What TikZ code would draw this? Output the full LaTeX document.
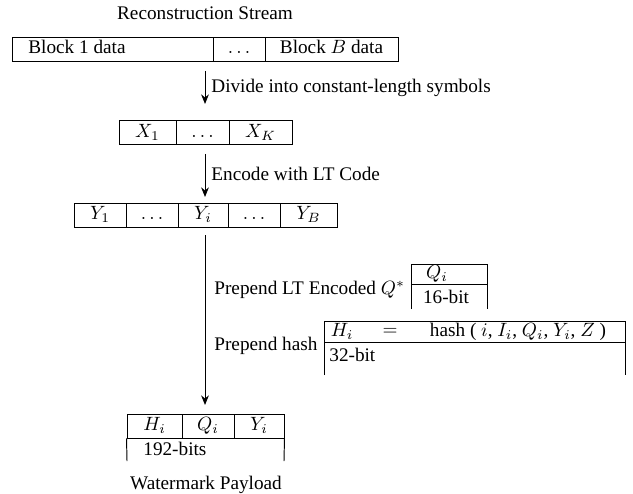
\documentclass[tikz,border=0pt]{standalone}
\usepackage{fontspec}
\setmainfont{Liberation Serif}
\usetikzlibrary{arrows.meta}
\newcommand\pxu{0.52pt}
\tikzset{
  cell/.style={draw, rectangle, inner sep=0pt, minimum height=24*\pxu, line width=0.5pt, text height=7pt, text depth=2pt},
  txt/.style={inner sep=0pt, font=\fontsize{10}{12}\selectfont},
  flow/.style={-{Stealth[length=5pt,width=4pt]}, line width=0.5pt},
  openbox/.style={draw, line width=0.5pt}
}
\begin{document}
\begin{tikzpicture}[x=\pxu, y=-\pxu, every node/.style={font=\fontsize{10}{12}\selectfont}]
\useasboundingbox (0,0) rectangle (633,494);
% title
\node[txt] (title) at (205,13) {Reconstruction Stream};
% block table
\node[cell, minimum width=201*\pxu] (b1) at (112.5,49) {};
\node[cell, minimum width=52*\pxu] (b2) at (239,49) {$\ldots$};
\node[cell, minimum width=133*\pxu] (b3) at (331.5,49) {Block $B$ data};
\node[txt, anchor=west, text height=7pt, text depth=2pt] (b1t) at (28,49) {Block 1 data};
% arrow 1
\coordinate (a1s) at (205,71);
\coordinate (a1e) at (205,104);
\draw[flow] (a1s) -- (a1e);
\node[txt, anchor=west] (l1) at (211,88) {Divide into constant-length symbols};
% X table
\node[cell, minimum width=57*\pxu] (x1) at (147.5,132.5) {$X_1$};
\node[cell, minimum width=53*\pxu] (x2) at (202.5,132.5) {$\ldots$};
\node[cell, minimum width=63*\pxu] (x3) at (260.5,132.5) {$X_K$};
% arrow 2
\coordinate (a2s) at (205,154);
\coordinate (a2e) at (205,197);
\draw[flow] (a2s) -- (a2e);
\node[txt, anchor=west] (l2) at (211,174) {Encode with LT Code};
% Y table
\node[cell, minimum width=52*\pxu] (y1) at (100,215) {$Y_1$};
\node[cell, minimum width=52*\pxu] (y2) at (152,215) {$\ldots$};
\node[cell, minimum width=50*\pxu] (y3) at (203,215) {$Y_i$};
\node[cell, minimum width=52*\pxu] (y4) at (254,215) {$\ldots$};
\node[cell, minimum width=57*\pxu] (y5) at (308.5,215) {$Y_B$};
% long arrow
\coordinate (a3s) at (205,235);
\coordinate (a3e) at (205,405);
\draw[flow] (a3s) -- (a3e);
% Q box
\node[txt, anchor=west] (l3) at (214,290) {Prepend LT Encoded $Q^{*}$};
\draw[openbox] (411,309) -- (411,264) -- (487,264) -- (487,309);
\draw[openbox] (411,284) -- (487,284);
\node[txt] (qi) at (437,274) {$Q_i$};
\node[txt] (q16) at (446,297) {16-bit};
% hash box
\node[txt, anchor=west] (l4) at (214,346) {Prepend hash};
\draw[openbox] (324,375) -- (324,321) -- (625,321) -- (625,375);
\draw[openbox] (324,342) -- (625,342);
\node[txt] (hh) at (342,331.5) {$H_i$};
\node[txt] (heq) at (390,331.5) {$=$};
\node[txt] (hexp) at (518,331.5) {hash ( $i$, $I_i$, $Q_i$, $Y_i$, $Z$ )};
\node[txt, anchor=west] (h32) at (329,355) {32-bit};
% payload
\node[cell, minimum width=55*\pxu] (p1) at (154.5,426) {$H_i$};
\node[cell, minimum width=52*\pxu] (p2) at (208,426) {$Q_i$};
\node[cell, minimum width=50*\pxu] (p3) at (259,426) {$Y_i$};
\draw[openbox] (p1.south west) -- (127,461);
\draw[openbox] (p3.south east) -- (284,461);
\node[txt, anchor=west] (pbits) at (143,449) {192-bits};
\node[txt] (wm) at (206,485) {Watermark Payload};
\end{tikzpicture}
\end{document}
